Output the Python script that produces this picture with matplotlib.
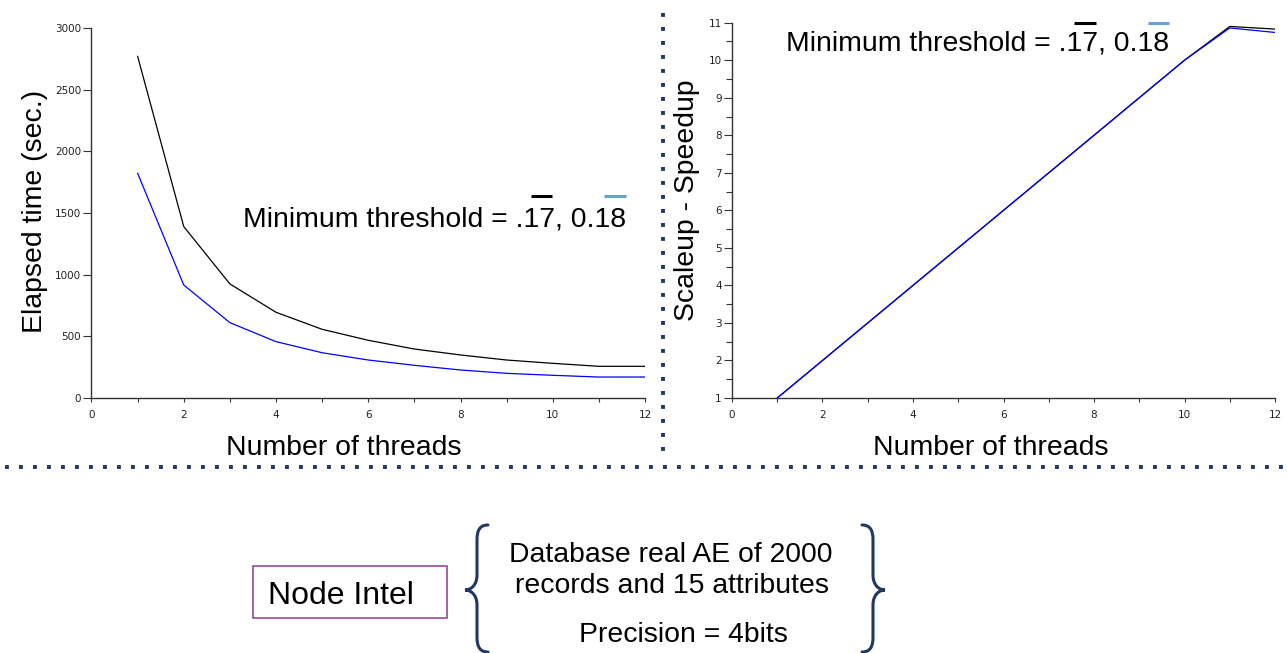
import numpy as np
import matplotlib
matplotlib.use("Agg")
import matplotlib.pyplot as plt
from matplotlib.path import Path
from matplotlib.patches import PathPatch, Rectangle
from matplotlib.lines import Line2D
from matplotlib.ticker import MultipleLocator

plt.rcParams['font.family'] = ['Liberation Sans', 'DejaVu Sans']

# data
threads = [1, 2, 3, 4, 5, 6, 7, 8, 9, 10, 11, 12]
time_017 = [2770, 1390, 925, 695, 557, 468, 397, 349, 308, 281, 257, 257]
time_018 = [1822, 916, 611, 457, 367, 308, 265, 227, 200, 184, 170, 170]
speedup_017 = [1, 2, 3, 4, 5, 6, 7, 8, 9, 10, 10.90, 10.83]
speedup_018 = [1, 2, 3, 4, 5, 6, 7, 8, 9, 10, 10.86, 10.74]

thread_ticks = [0, 2, 4, 6, 8, 10, 12]
time_ticks = [0, 500, 1000, 1500, 2000, 2500, 3000]
speedup_ticks = [1, 2, 3, 4, 5, 6, 7, 8, 9, 10, 11]

threshold_label = "Minimum threshold = .17, 0.18"
info_lines = ["Database real AE of 2000", "records and 15 attributes", "Precision = 4bits"]
node_label = "Node Intel"

W, H = 1287, 653
NAVY = '#1f3864'
FS = 20.4


def fx(px):
    return px / W


def fy(py):
    return 1 - py / H


fig = plt.figure(figsize=(W / 100, H / 100), dpi=100)

ax1 = fig.add_axes([fx(91.5), fy(398), fx(645) - fx(91.5), fy(28) - fy(398)])
ax2 = fig.add_axes([fx(732), fy(398), fx(1275) - fx(732), fy(22.7) - fy(398)])

ax1.plot(threads, time_017, color='black', lw=0.9)
ax1.plot(threads, time_018, color='#0000ff', lw=0.9)
ax1.set_xlim(0, 12)
ax1.set_ylim(0, 3000)
ax1.set_xticks(thread_ticks)
ax1.set_yticks(time_ticks)
ax1.xaxis.set_minor_locator(MultipleLocator(1))

ax2.plot(threads, speedup_017, color='black', lw=0.9)
ax2.plot(threads, speedup_018, color='#0000ff', lw=0.9)
ax2.set_xlim(0, 12)
ax2.set_ylim(1, 11)
ax2.set_xticks(thread_ticks)
ax2.set_yticks(speedup_ticks)
ax2.xaxis.set_minor_locator(MultipleLocator(1))
ax2.yaxis.set_minor_locator(MultipleLocator(0.5))

for ax in (ax1, ax2):
    for s in ('top', 'right'):
        ax.spines[s].set_visible(False)
    for s in ('left', 'bottom'):
        ax.spines[s].set_color('#333333')
        ax.spines[s].set_linewidth(1.0)
    ax.tick_params(axis='both', which='both', colors='#333333', labelcolor='#222222',
                   labelsize=7.5, labelfontfamily='DejaVu Sans', direction='out', width=0.8)
    ax.tick_params(axis='y', which='major', length=6, pad=1.5)
    ax.tick_params(axis='y', which='minor', length=4)
    ax.tick_params(axis='x', which='major', length=3, pad=6)
    ax.tick_params(axis='x', which='minor', length=3)

ax1.set_ylabel('Elapsed time (sec.)', fontsize=FS, va='baseline')
ax1.yaxis.set_label_coords((41.7 - 91.5) / 553.5, (398 - 211) / 370)
ax1.set_xlabel('Number of threads', fontsize=FS, va='baseline')
ax1.xaxis.set_label_coords((344 - 91.5) / 553.5, -(455 - 398) / 370)

ax2.set_ylabel('Scaleup - Speedup', fontsize=FS, va='baseline')
ax2.yaxis.set_label_coords((694 - 732) / 543, (398 - 200) / 375.3)
ax2.set_xlabel('Number of threads', fontsize=FS, va='baseline')
ax2.xaxis.set_label_coords((991 - 732) / 543, -(455 - 398) / 375.3)

renderer = fig.canvas.get_renderer()


def text_width(s, size):
    tmp = fig.text(0, 0, s, fontsize=size)
    w = tmp.get_window_extent(renderer).width
    tmp.remove()
    return w


def threshold_text(x, y, rise):
    size = FS
    fig.text(fx(x), fy(y), threshold_label, fontsize=size, ha='left', va='baseline')
    em = size * 100 / 72
    adv = 0.556 * em
    bar_w = 1.35 * adv
    for digit_end, col, shift in (("Minimum threshold = .17", 'black', -5),
                                  ("Minimum threshold = .17, 0.18", '#64a0dc', -3)):
        right = x + text_width(digit_end, size)
        cx = right - adv / 2 + shift
        fig.add_artist(Line2D([fx(cx - bar_w / 2), fx(cx + bar_w / 2)],
                              [fy(y - rise)] * 2, transform=fig.transFigure,
                              color=col, lw=2.2, solid_capstyle='butt'))


threshold_text(242.7, 226.7, 31)
threshold_text(786, 50, 27)

# dotted dividers
fig.add_artist(Line2D([fx(5), fx(1287)], [fy(466.7)] * 2, transform=fig.transFigure,
                      color=NAVY, lw=2.8, linestyle=(0, (1, 2.6)), dash_capstyle='butt'))
fig.add_artist(Line2D([fx(663.3)] * 2, [fy(13), fy(460)], transform=fig.transFigure,
                      color=NAVY, lw=2.8, linestyle=(0, (1, 2.6)), dash_capstyle='butt'))

# node box
fig.add_artist(Rectangle((fx(253), fy(618)), fx(447) - fx(253), fy(566) - fy(618),
                         transform=fig.transFigure, fill=False, edgecolor='#8e3a8e', lw=1.1))
fig.text(fx(268), fy(604), node_label, fontsize=23, ha='left', va='baseline')

# info text
fig.text(fx(671), fy(562), info_lines[0], fontsize=FS, ha='center', va='baseline')
fig.text(fx(672), fy(593), info_lines[1], fontsize=FS, ha='center', va='baseline')
fig.text(fx(683), fy(641.7), info_lines[2], fontsize=FS, ha='center', va='baseline')


def brace(x_stem, x_end, x_tip, y_top, y_mid, y_bot):
    d = np.sign(x_end - x_stem)
    verts = [(x_end, y_top),
             (x_stem + d * 3, y_top), (x_stem, y_top + 5), (x_stem, y_top + 15),
             (x_stem, y_mid - 15),
             (x_stem, y_mid - 5), (x_tip + d * 6, y_mid), (x_tip, y_mid),
             (x_tip + d * 6, y_mid), (x_stem, y_mid + 5), (x_stem, y_mid + 15),
             (x_stem, y_bot - 15),
             (x_stem, y_bot - 5), (x_stem + d * 3, y_bot), (x_end, y_bot)]
    codes = [Path.MOVETO,
             Path.CURVE4, Path.CURVE4, Path.CURVE4,
             Path.LINETO,
             Path.CURVE4, Path.CURVE4, Path.CURVE4,
             Path.CURVE4, Path.CURVE4, Path.CURVE4,
             Path.LINETO,
             Path.CURVE4, Path.CURVE4, Path.CURVE4]
    verts = [(fx(a), fy(b)) for a, b in verts]
    fig.add_artist(PathPatch(Path(verts, codes), transform=fig.transFigure,
                             fill=False, edgecolor=NAVY, lw=2.2, capstyle='round'))


brace(477, 488, 465, 525, 590, 652)
brace(873, 862, 885, 525, 590, 652)

fig.savefig("out.png", dpi=100)
